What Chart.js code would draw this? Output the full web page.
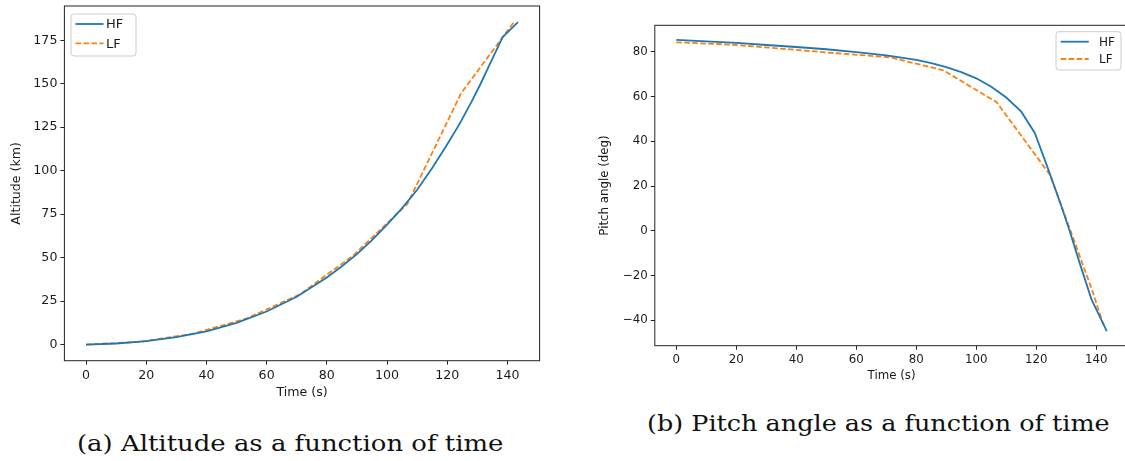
<!DOCTYPE html>
<html>
<head>
<meta charset="utf-8">
<script src="https://cdn.jsdelivr.net/npm/chart.js@4.4.0/dist/chart.umd.min.js"></script>
<style>
  html, body { margin: 0; padding: 0; background: #fff; }
  body { width: 1125px; height: 461px; position: relative; overflow: hidden; }
  canvas { position: absolute; }
  #altChart { left: 0; top: 0; }
  #pitchChart { left: 570px; top: 0; }
  .caption {
    position: absolute; font-family: 'DejaVu Serif', serif; font-size: 23px;
    line-height: 23px; white-space: nowrap; color: #111; transform-origin: 0 0;
  }
</style>
</head>
<body>
<canvas id="altChart" width="560" height="400"></canvas>
<canvas id="pitchChart" width="570" height="390"></canvas>
<div class="caption" data-width="426" style="left:77px; top:432px">(a) Altitude as a function of time</div>
<div class="caption" data-width="463" style="left:647px; top:412px">(b) Pitch angle as a function of time</div>
<script>
'use strict';

// HF trajectory (s, km, deg)
const hfTime     = [0, 10, 20, 30, 40, 50, 60, 70, 80, 85, 90, 95, 100, 105, 110, 115, 119.5, 124, 128, 131, 134.5, 138.4, 143.5];
const hfAltitude = [0, 0.6, 1.9, 4.3, 7.6, 12.5, 19, 27.5, 38.5, 45, 52, 60, 69, 78.5, 89, 101.5, 113.7, 126.6, 139.4, 149.7, 162.6, 176.8, 185.4];
const hfPitch    = [85.4, 84.7, 84.0, 83.1, 82.2, 81.2, 79.9, 78.5, 76.4, 75.0, 73.2, 71.0, 68.2, 64.4, 59.6, 53.3, 43.8, 27.5, 12.5, 0.5, -14.5, -30.6, -44.8];

// LF trajectory (coarser steps)
const lfTime     = [0, 17.8, 35.6, 53.4, 71.2, 89.0, 106.8, 124.6, 138.5, 142.4];
const lfAltitude = [0, 1.5, 6.2, 15.0, 29.0, 51.5, 81.0, 144.5, 177.0, 186.0];
const lfPitch    = [84.3, 83.3, 81.4, 79.4, 77.6, 71.8, 57.5, 25.0, -26.0, -42.0];

const timeTicks     = [0, 20, 40, 60, 80, 100, 120, 140];
const altitudeTicks = [0, 25, 50, 75, 100, 125, 150, 175];
const pitchTicks    = [-40, -20, 0, 20, 40, 60, 80];

const seriesLabels = ['HF', 'LF'];

const AXIS_COLOR = '#222';
const TEXT_COLOR = '#1a1a1a';

Chart.defaults.font.family = "'DejaVu Sans', sans-serif";
Chart.defaults.color = TEXT_COLOR;


function toPoints(xs, ys) {
    return xs.map((x, i) => ({ x: x, y: ys[i] }));
}


// draws the four spines like matplotlib
const framePlugin = {
    id: 'frame',
    afterDatasetsDraw(chart) {
        const { ctx, chartArea: a } = chart;
        ctx.save();
        ctx.strokeStyle = AXIS_COLOR;
        ctx.lineWidth = 1;
        ctx.strokeRect(a.left, a.top, a.right - a.left, a.bottom - a.top);
        ctx.restore();
    }
};

// legend with a rounded frame inside the axes
const boxLegend = {
    id: 'boxLegend',
    afterDraw(chart, args, opts) {
        const ctx = chart.ctx;
        ctx.save();
        ctx.beginPath();
        ctx.roundRect(opts.x, opts.y, opts.w, opts.h, 3);
        ctx.fillStyle = 'rgba(255,255,255,0.8)';
        ctx.fill();
        ctx.strokeStyle = '#cccccc';
        ctx.lineWidth = 1;
        ctx.stroke();

        chart.data.datasets.forEach((ds, i) => {
            const y = opts.rows[i];
            ctx.beginPath();
            ctx.setLineDash(ds.borderDash || []);
            ctx.strokeStyle = ds.borderColor;
            ctx.lineWidth = ds.borderWidth;
            ctx.moveTo(opts.lineX, y);
            ctx.lineTo(opts.lineX + opts.lineLen, y);
            ctx.stroke();
            ctx.setLineDash([]);
            ctx.fillStyle = TEXT_COLOR;
            ctx.font = opts.fontSize + "px 'DejaVu Sans'";
            ctx.textBaseline = 'middle';
            ctx.fillText(ds.label, opts.textX, y + 1);
        });
        ctx.restore();
    }
};


function makeChart(id, cfg) {
    const tickLabel = v => String(v).replace('-', '\u2212');
    const noPad = s => { s.paddingTop = 0; s.paddingBottom = 0; s.paddingLeft = 0; s.paddingRight = 0; };

    return new Chart(document.getElementById(id), {
        type: 'line',
        data: {
            datasets: [{
                label: seriesLabels[0],
                data: toPoints(hfTime, cfg.hf),
                borderColor: '#1f77b4',
                borderWidth: 1.8,
                pointRadius: 0,
                tension: 0,
                fill: false
            }, {
                label: seriesLabels[1],
                data: toPoints(lfTime, cfg.lf),
                borderColor: '#ff7f0e',
                borderWidth: 1.8,
                borderDash: [5.5, 2.5],
                pointRadius: 0,
                tension: 0,
                fill: false
            }]
        },
        options: {
            responsive: false,
            animation: false,
            layout: { padding: cfg.padding },
            plugins: {
                legend: { display: false },
                tooltip: { enabled: false },
                boxLegend: cfg.legend
            },
            scales: {
                x: {
                    type: 'linear',
                    min: -7.175,
                    max: 150.675,
                    afterBuildTicks: s => { s.ticks = timeTicks.map(v => ({ value: v })); },
                    afterFit: s => { s.height = cfg.xHeight; noPad(s); },
                    grid: { drawOnChartArea: false, tickLength: 4, tickColor: AXIS_COLOR },
                    border: { display: false },
                    ticks: { font: { size: cfg.font }, padding: 3, maxRotation: 0, callback: tickLabel },
                    title: {
                        display: true, text: 'Time (s)',
                        font: { size: cfg.font }, padding: { top: 0, bottom: cfg.xTitlePad }
                    }
                },
                y: {
                    type: 'linear',
                    min: cfg.yMin,
                    max: cfg.yMax,
                    afterBuildTicks: s => { s.ticks = cfg.yTicks.map(v => ({ value: v })); },
                    afterFit: s => { s.width = cfg.yWidth; noPad(s); },
                    grid: { drawOnChartArea: false, tickLength: 4, tickColor: AXIS_COLOR },
                    border: { display: false },
                    ticks: { font: { size: cfg.font }, padding: 3, callback: tickLabel },
                    title: {
                        display: true, text: cfg.yTitle,
                        font: { size: cfg.font }, padding: { top: cfg.yTitlePad, bottom: 0 }
                    }
                }
            }
        },
        plugins: [framePlugin, boxLegend]
    });
}


makeChart('altChart', {
    hf: hfAltitude, lf: lfAltitude, yTicks: altitudeTicks,
    yMin: -9.3, yMax: 194.7, yTitle: 'Altitude (km)',
    font: 12.6, yWidth: 64.4, xHeight: 39.3, yTitlePad: 9.4, xTitlePad: 0,
    padding: { left: 0, top: 6, right: 20.4, bottom: 0 },
    legend: { x: 71, y: 14, w: 65, h: 42, lineX: 75.5, lineLen: 28, textX: 106, rows: [24, 43.3], fontSize: 13 }
});

makeChart('pitchChart', {
    hf: hfPitch, lf: lfPitch, yTicks: pitchTicks,
    yMin: -51.3, yMax: 91.9, yTitle: 'Pitch angle (deg)',
    font: 11.8, yWidth: 84.8, xHeight: 44.3, yTitlePad: 27.9, xTitlePad: 6.9,
    padding: { left: 0, top: 25.3, right: 11.7, bottom: 0 },
    legend: { x: 486, y: 31.7, w: 65, h: 38.3, lineX: 490.7, lineLen: 28, textX: 529, rows: [41.7, 59], fontSize: 12 }
});


// stretch captions to the width of the original lines
document.querySelectorAll('.caption').forEach(el => {
    const target = Number(el.dataset.width);
    el.style.transform = `scaleX(${target / el.offsetWidth})`;
});
</script>
</body>
</html>
